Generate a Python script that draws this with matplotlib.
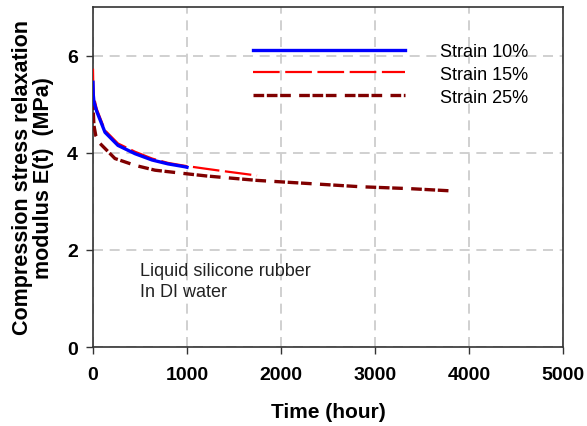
import matplotlib
matplotlib.use("Agg")
import matplotlib.pyplot as plt

plt.rcParams.update({"font.family": ["Liberation Sans", "DejaVu Sans"]})

t10 = [0, 3, 10, 40, 128, 266, 447, 628, 798, 979, 1000]
e10 = [5.45, 5.2, 5.05, 4.85, 4.42, 4.15, 3.98, 3.85, 3.77, 3.71, 3.70]
t15 = [0, 3, 10, 40, 128, 266, 447, 628, 798, 979, 1200, 1351, 1550, 1745]
e15 = [5.73, 5.4, 5.15, 4.9, 4.46, 4.19, 4.02, 3.88, 3.79, 3.73, 3.67, 3.63, 3.58, 3.53]
t25 = [0, 3, 10, 30, 75, 234, 447, 660, 979, 1213, 1745, 2340, 2840, 3372, 3850]
e25 = [5.1, 4.85, 4.56, 4.35, 4.19, 3.88, 3.74, 3.64, 3.57, 3.52, 3.43, 3.36, 3.30, 3.26, 3.21]
labels = ["Strain 10%", "Strain 15%", "Strain 25%"]
xticks = [0, 1000, 2000, 3000, 4000, 5000]
yticks = [0, 2, 4, 6]

fig = plt.figure(figsize=(5.87, 4.27), dpi=100)
ax = fig.add_axes([0.1584, 0.185, 0.8007, 0.7963])

l25, = ax.plot(t25, e25, color="#800000", lw=2.4,
               ls=(0, (3.2, 0.8, 3.2, 0.8, 3.2, 2.5)), zorder=3)
l15, = ax.plot(t15, e15, color="#ff0000", lw=1.6, ls=(0, (12, 2.5)), zorder=4)
l10, = ax.plot(t10, e10, color="#0000ff", lw=2.4, zorder=5)

ax.set_xlim(0, 5000)
ax.set_ylim(0, 7)
ax.set_xticks(xticks)
ax.set_yticks(yticks)
ax.grid(True, color="#c8c8c8", lw=1.2, ls=(0, (6, 4)))
ax.set_axisbelow(True)
for s in ax.spines.values():
    s.set_color("#333333"); s.set_linewidth(1.2)
ax.tick_params(direction="out", length=5, width=1, color="#333333", pad=6)
for lab in ax.get_xticklabels() + ax.get_yticklabels():
    lab.set_fontweight("bold"); lab.set_fontsize(14)
ax.tick_params(axis="x", pad=9)

ax.set_xlabel("Time (hour)", fontsize=15, fontweight="bold", labelpad=13)
ax.set_ylabel("Compression stress relaxation\nmodulus E(t)  (MPa)", fontsize=15.5,
              fontweight="bold", labelpad=9, linespacing=1.05)

ax.legend([l10, l15, l25], labels, frameon=False, fontsize=13,
          handlelength=8.4, handletextpad=1.95, labelspacing=0.32,
          borderpad=0, borderaxespad=0, loc="upper left",
          bbox_to_anchor=(253 / 587, 1 - 44 / 427), bbox_transform=fig.transFigure)

ax.text(0.1, 0.194, "Liquid silicone rubber\nIn DI water", transform=ax.transAxes,
        fontsize=13, color="#222222", va="center", ha="left", linespacing=1.3)

fig.savefig("out.png", dpi=100)
